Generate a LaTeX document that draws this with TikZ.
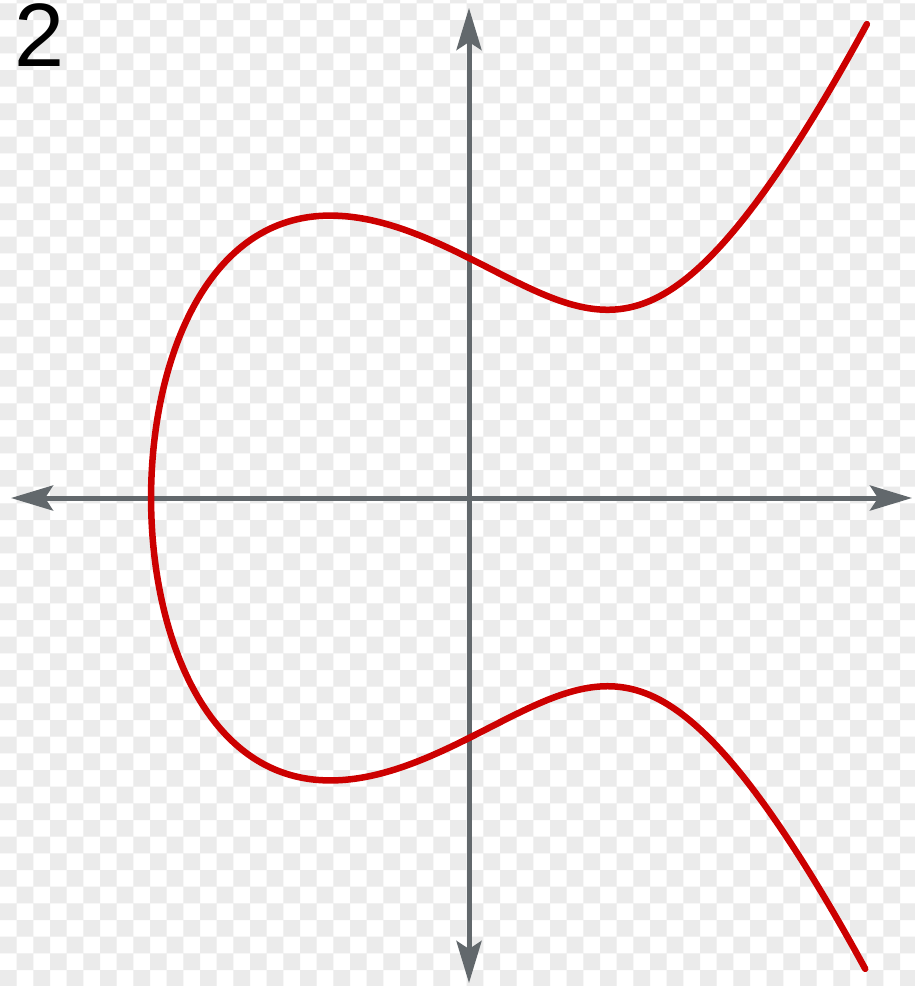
\documentclass[tikz,border=0pt]{standalone}
\usepackage{fontspec}
\setmainfont{Liberation Sans}
\usetikzlibrary{arrows.meta}
\definecolor{checkgray}{RGB}{235,235,235}
\definecolor{axisgray}{RGB}{98,104,108}
\definecolor{curvered}{RGB}{204,0,0}
\tikzset{
  axis/.style={draw=axisgray, line width=5pt,
    {Stealth[length=42pt,width=25pt,inset=8pt]}-{Stealth[length=42pt,width=25pt,inset=8pt]}},
  curve/.style={draw=curvered, line width=6.5pt, line cap=round, line join=round},
  label/.style={font=\fontsize{90}{90}\selectfont, inner sep=0pt, anchor=base west}
}
\begin{document}
\begin{tikzpicture}[x=1pt,y=-1pt]
\useasboundingbox (0,0) rectangle (915,986);
\begin{scope}
\clip (0,0) rectangle (915,986);
\fill[white] (0,0) rectangle (915,986);
\fill[checkgray] \foreach \k [evaluate=\k as \js using {int(mod(\k+2,2))}] in {-1,...,59} {
  \foreach \m in {0,...,28} {
      ({(2*\m+\js)*16.667},{3.33+\k*16.667}) rectangle ++(16.667,16.667)
  }
};
\end{scope}
\coordinate (xl) at (11,498);
\coordinate (xr) at (912,498);
\coordinate (yt) at (469,8);
\coordinate (yb) at (469,983);
\draw[axis] (xl) -- (xr);
\draw[axis] (yb) -- (yt);
\draw[curve] plot[domain=-1.725:1.73, samples=400, smooth]
  ({469+240*(-1.324718+\x*\x)}, {498-240*\x*sqrt(4.264633-3.974154*\x*\x+\x*\x*\x*\x)});
\node[label] (two) at (14,66) {2};
\end{tikzpicture}
\end{document}
